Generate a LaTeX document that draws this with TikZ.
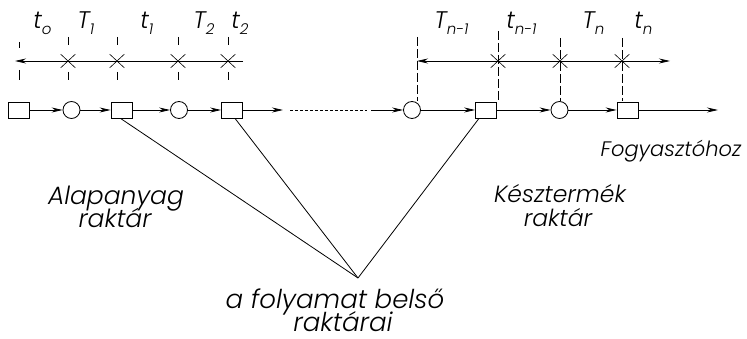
\documentclass[tikz,border=0pt]{standalone}
\usepackage{fontspec}
\newfontfamily\lab{Poppins Light Italic}
\usetikzlibrary{arrows.meta,shapes.misc}
\newcommand\tsub[2]{#1\raisebox{-0.4ex}{\fontsize{15}{15}\selectfont #2}}
\tikzset{
  x=1pt, y=-1pt,
  every path/.style={line width=0.8pt},
  sq/.style={draw, rectangle, minimum width=21pt, minimum height=16pt, inner sep=0pt},
  ci/.style={draw, circle, minimum size=17pt, inner sep=0pt},
  flow/.style={-{Stealth[length=11pt,width=5pt]}},
  xm/.style={draw, cross out, minimum width=14pt, minimum height=13pt, inner sep=0pt, line width=0.6pt},
  tick/.style={dash pattern=on 9pt off 3pt, line width=0.7pt},
  lbl/.style={inner sep=0pt, anchor=base},
  tlbl/.style={font=\lab\fontsize{24}{24}\selectfont, inner sep=0pt, anchor=base west},
}
\begin{document}
\begin{tikzpicture}
\useasboundingbox (0,0) rectangle (747,339);
% bottom row
\node[sq] (s1) at (19,110) {};
\node[ci] (c1) at (71.5,110) {};
\node[sq] (s2) at (121.5,110) {};
\node[ci] (c2) at (179,110) {};
\node[sq] (s3) at (232,110) {};
\node[ci] (c4) at (412,110) {};
\node[sq] (s4) at (486,110) {};
\node[ci] (c5) at (559.5,110) {};
\node[sq] (s5) at (627.5,110) {};
\coordinate (a1) at (283,110);
\coordinate (d1) at (290,110);
\coordinate (d2) at (367,110);
\coordinate (a2) at (371,110);
\coordinate (out) at (718,110);
\draw[flow] (s1) -- (c1);
\draw[flow] (c1) -- (s2);
\draw[flow] (s2) -- (c2);
\draw[flow] (c2) -- (s3);
\draw[flow] (s3) -- (a1);
\draw[dash pattern=on 2.5pt off 2.5pt] (d1) -- (d2);
\draw[flow] (a2) -- (c4);
\draw[flow] (c4) -- (s4);
\draw[flow] (s4) -- (c5);
\draw[flow] (c5) -- (s5);
\draw[flow] (s5) -- (out);
% top left time axis
\coordinate (L) at (15,61);
\coordinate (R) at (243,61);
\draw[flow] (R) -- (L);
\node[xm] (x1) at (68,61) {};
\node[xm] (x2) at (117,61) {};
\node[xm] (x3) at (178,61) {};
\node[xm] (x4) at (228,61) {};
\draw[line width=0.7pt] (19,42) -- (19,48) (19,70) -- (19,80);
\foreach \x in {68,117,178,228}{
  \draw[line width=0.7pt] (\x,37) -- (\x,45) (\x,72) -- (\x,80);
}
% top right time axis
\coordinate (L2) at (417,61);
\coordinate (R2) at (670,61);
\draw[{Stealth[length=11pt,width=5pt]}-{Stealth[length=11pt,width=5pt]}] (L2) -- (R2);
\node[xm] (y1) at (498,61) {};
\node[xm] (y2) at (560,61) {};
\node[xm] (y3) at (622,61) {};
\draw[tick] (417,37) -- (417,101);
\draw[tick] (498,31) -- (498,101);
\draw[tick] (560,38) -- (560,101);
\draw[tick] (622,38) -- (622,101);
% time labels
\node[tlbl] (l0) at (33,29) {\tsub{t}{o}};
\node[tlbl] (l1) at (77,29) {\tsub{T}{1}};
\node[tlbl] (l2) at (140,29) {\tsub{t}{1}};
\node[tlbl] (l3) at (193,29) {\tsub{T}{2}};
\node[tlbl] (l4) at (231,29) {\tsub{t}{2}};
\node[tlbl] (l5) at (434,29) {\tsub{T}{n-1}};
\node[tlbl] (l6) at (506,29) {\tsub{t}{n-1}};
\node[tlbl] (l7) at (582,29) {\tsub{T}{n}};
\node[tlbl] (l8) at (634,29) {\tsub{t}{n}};
% apex lines
\coordinate (A) at (358,278);
\draw ([xshift=-1pt]s2.south) -- (A);
\draw ([xshift=3pt]s3.south) -- (A);
\draw ([xshift=-7pt]s4.south) -- (A);
% text labels
\node[lbl, font=\lab\fontsize{25}{25}\selectfont] (alap1) at (116,205) {Alapanyag};
\node[lbl, font=\lab\fontsize{25}{25}\selectfont] (alap2) at (115,228) {raktár};
\node[lbl, font=\lab\fontsize{23.5}{24}\selectfont] (kesz1) at (560,203) {Késztermék};
\node[lbl, font=\lab\fontsize{23.5}{24}\selectfont] (kesz2) at (558,227) {raktár};
\node[lbl, font=\lab\fontsize{21}{21}\selectfont] (fogy) at (671,157) {Fogyasztóhoz};
\node[lbl, font=\lab\fontsize{26}{26}\selectfont] (bel1) at (335,308) {a folyamat belső};
\node[lbl, font=\lab\fontsize{26}{26}\selectfont] (bel2) at (343,331) {raktárai};
\end{tikzpicture}
\end{document}
